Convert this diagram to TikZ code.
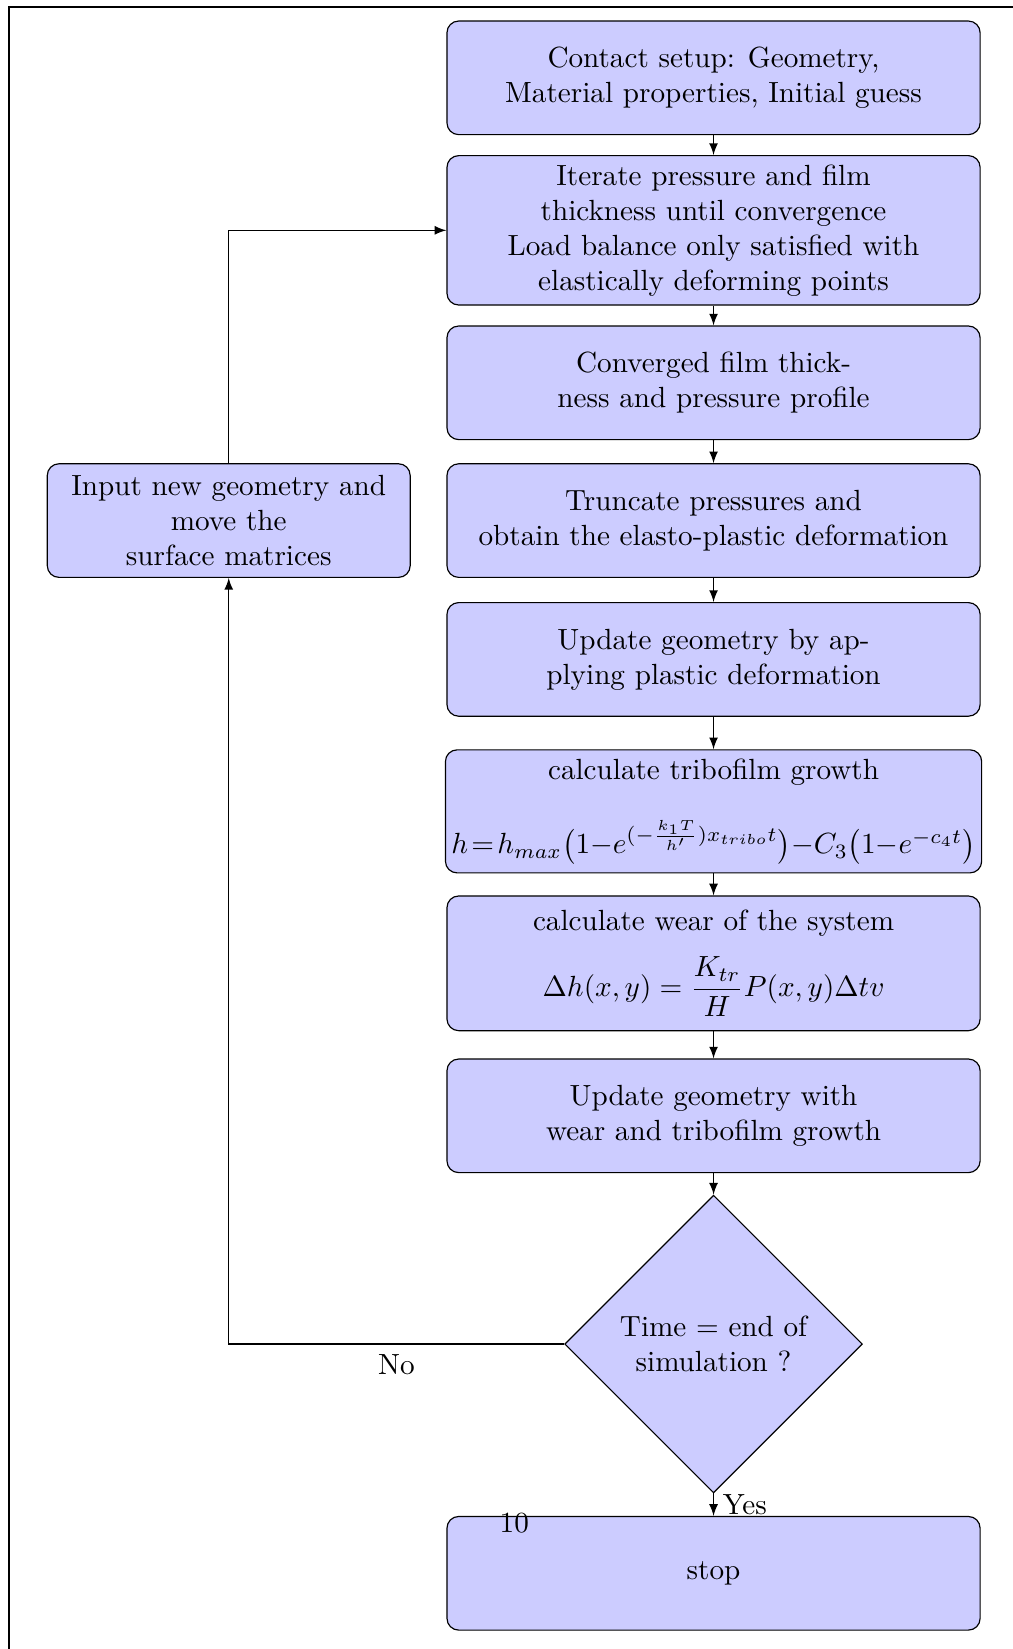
\documentclass[tikz,border=0pt]{standalone}
\usetikzlibrary{shapes.geometric}
\begin{document}
\begin{tikzpicture}[x=0.01267cm,y=-0.01267cm,
  process/.style={rectangle,rounded corners,draw,fill=blue!20,align=center,
    minimum width=6.42cm,minimum height=1.368cm,inner sep=2pt},
  decision/.style={diamond,draw,fill=blue!20,align=center,
    minimum width=3.585cm,minimum height=3.585cm,inner sep=0pt},
  line/.style={draw,-latex}]
\useasboundingbox (0,0) rectangle (963,1568);

% outer frame
\draw[line width=0.8pt] (8.6,1600) -- (8.6,6.7) -- (1000,6.7);

% main column
\node[process] (setup) at (678.5,74) {Contact setup: Geometry,\\Material properties, Initial guess};
\node[process,minimum height=1.799cm] (iter) at (678.5,219)
  {Iterate pressure and film\\thickness until convergence\\Load balance only satisfied with\\elastically deforming points};
\node[process] (conv) at (678.5,364) {Converged film thick-\\ness and pressure profile};
\node[process] (trunc) at (678.5,495) {Truncate pressures and\\obtain the elasto-plastic deformation};
\node[process] (plast) at (678.5,627) {Update geometry by ap-\\plying plastic deformation};
\node[process,minimum height=1.482cm] (film) at (678.5,771.5)
  {calculate tribofilm growth\\[1.1em]
   $\medmuskip=0mu\thickmuskip=2mu
    h=h_{max}\bigl(1-e^{(-\frac{k_1T}{h'})x_{tribo}t}\bigr)-C_3\bigl(1-e^{-c_4t}\bigr)$};
\node[process,minimum height=1.622cm] (wear) at (678.5,916)
  {calculate wear of the system\\[0.6em]
   $\displaystyle\Delta h(x,y)=\frac{K_{tr}}{H}P(x,y)\Delta tv$};
\node[process] (upd) at (678.5,1061) {Update geometry with\\wear and tribofilm growth};
\node[decision] (dec) at (678.5,1278) {Time $=$ end of\\simulation ?};
\node[process] (stop) at (678.5,1496) {stop};
\node (ten) at (489,1448) {10};

% side box
\node[process,minimum width=4.37cm] (newgeo) at (217.5,495)
  {Input new geometry and\\move the\\surface matrices};

% connectors
\draw[line] (setup) -- (iter);
\draw[line] (iter) -- (conv);
\draw[line] (conv) -- (trunc);
\draw[line] (trunc) -- (plast);
\draw[line] (plast) -- (film);
\draw[line] (film) -- (wear);
\draw[line] (wear) -- (upd);
\draw[line] (upd) -- (dec);
\draw[line] (dec) -- node[right,inner sep=3pt] {Yes} (stop);
\draw[line] (dec.west) -- node[below] {No} (dec.west -| newgeo) -- (newgeo.south);
\draw[line] (newgeo.north) |- (iter.west);
\end{tikzpicture}
\end{document}
